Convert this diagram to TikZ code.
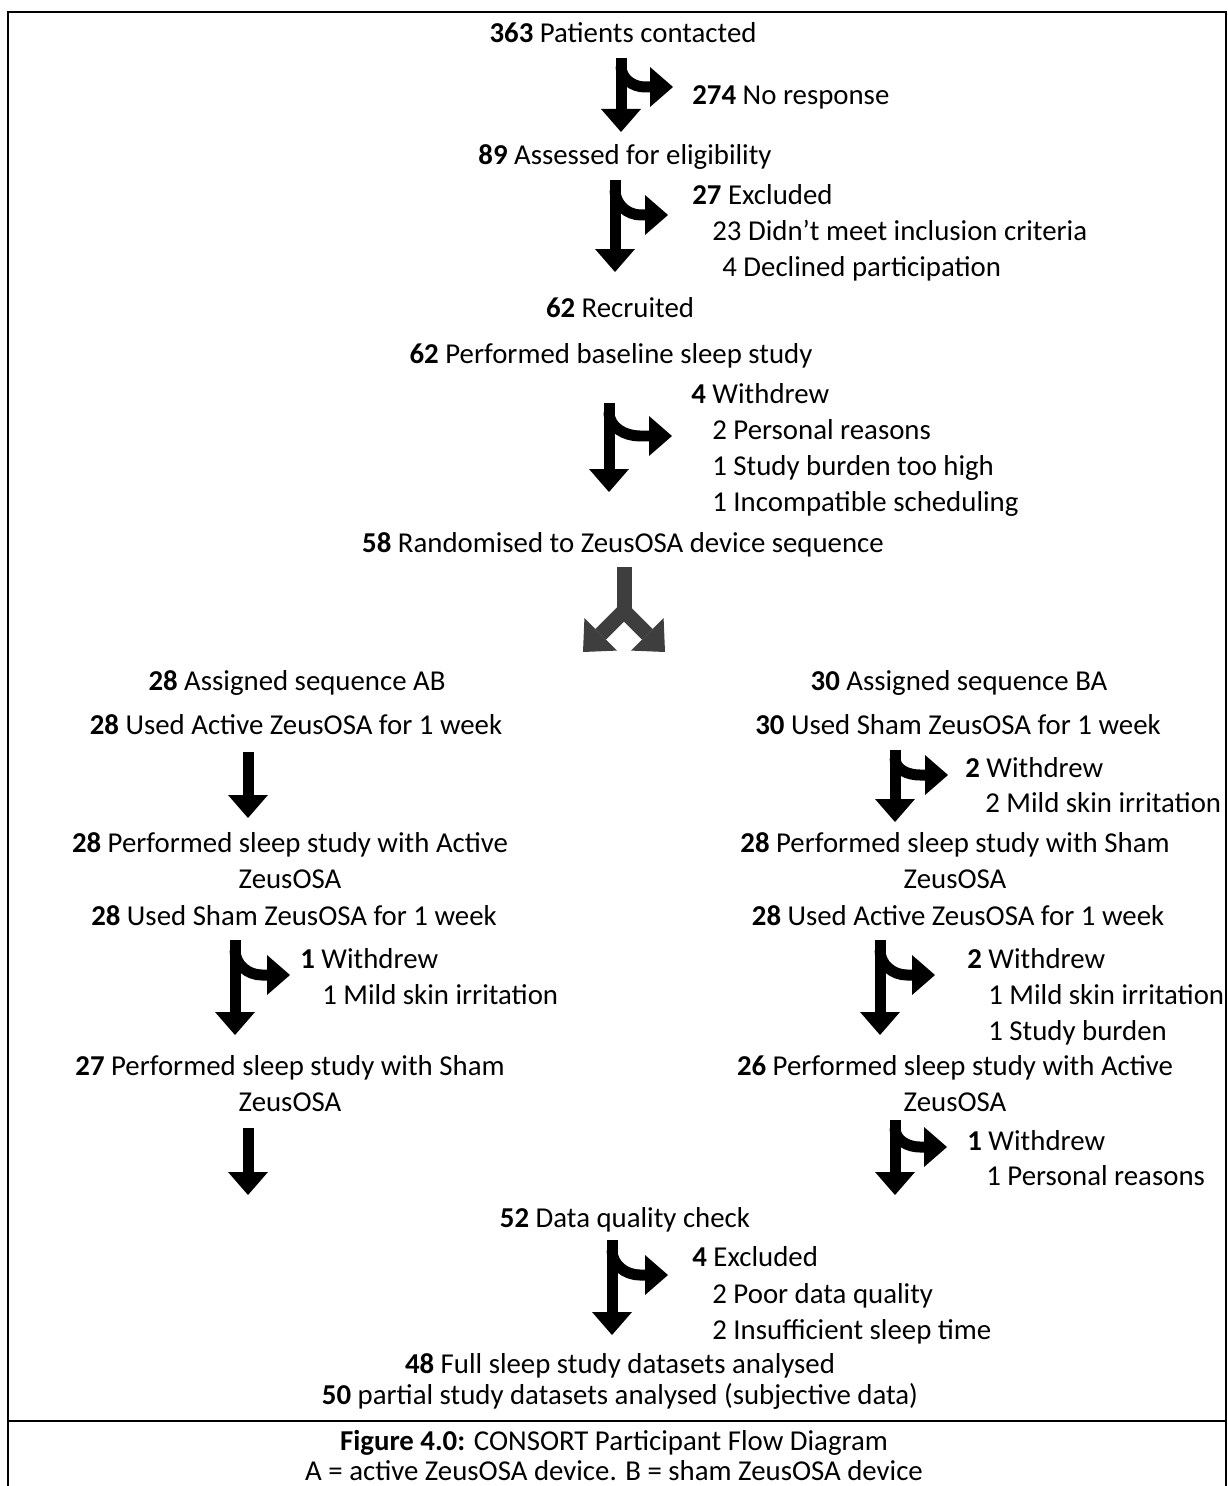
\documentclass[tikz,border=0pt]{standalone}
\usepackage{fontspec}
\setmainfont{Carlito}
\usetikzlibrary{arrows.meta}
\definecolor{forkgrey}{RGB}{62,62,62}

\begin{document}
\begin{tikzpicture}[x=0.02cm, y=-0.02cm,
	every node/.style={inner sep=0pt, font=\fontsize{16.4}{20}\selectfont},
	line/.style={anchor=base},
	side/.style={anchor=base west},
	frame/.style={line width=0.03cm},
	bigarrow/.style={line width=0.22cm, arrows={-Triangle[width=0.8cm,length=0.46cm,line width=0pt]}},
	fork/.style={draw=forkgrey, line width=0.3cm, line join=miter}]
	\useasboundingbox (0,0) rectangle (1227,1486);
	\draw[frame] (8,1486) -- (8,12) -- (1226,12) -- (1226,1486);
	\draw[frame] (8,1421) -- (1226,1421);

	\node[line] (contacted) at (623,43) {\textbf{363} Patients contacted};
	\node[side] (noresp) at (692,105) {\textbf{274} No response};
	\node[line] (assessed) at (625,165) {\textbf{89} Assessed for eligibility};
	\node[side] (excl) at (692,205) {\textbf{27} Excluded};
	\node[side] (exclA) at (712,241) {23 Didn’t meet inclusion criteria};
	\node[side] (exclB) at (722,277) {4 Declined participation};
	\node[line] (recruited) at (620,318) {\textbf{62} Recruited};
	\node[line] (baseline) at (611,364) {\textbf{62} Performed baseline sleep study};
	\node[side] (wd) at (691,403) {\textbf{4} Withdrew};
	\node[side] (wdA) at (712,439) {2 Personal reasons};
	\node[side] (wdB) at (712,475) {1 Study burden too high};
	\node[side] (wdC) at (712,511) {1 Incompatible scheduling};
	\node[line] (random) at (623,552) {\textbf{58} Randomised to ZeusOSA device sequence};

	\node[line] (seqAB) at (297,690) {\textbf{28} Assigned sequence AB};
	\node[line] (activeAB) at (296,734) {\textbf{28} Used Active ZeusOSA for 1 week};
	\node[line] (sleepAB) at (290,852) {\textbf{28} Performed sleep study with Active};
	\node[line] (sleepABz) at (290,888) {ZeusOSA};
	\node[line] (shamAB) at (294,925) {\textbf{28} Used Sham ZeusOSA for 1 week};
	\node[side] (wdAB) at (300,968) {\textbf{1} Withdrew};
	\node[side] (wdABa) at (322,1004) {1 Mild skin irritation};
	\node[line] (sleepABb) at (290,1075) {\textbf{27} Performed sleep study with Sham};
	\node[line] (sleepABbz) at (290,1111) {ZeusOSA};

	\node[line] (seqBA) at (959,690) {\textbf{30} Assigned sequence BA};
	\node[line] (shamBA) at (958,734) {\textbf{30} Used Sham ZeusOSA for 1 week};
	\node[side] (wdBA) at (965,777) {\textbf{2} Withdrew};
	\node[side] (wdBAa) at (985,812) {2 Mild skin irritation};
	\node[line] (sleepBA) at (955,852) {\textbf{28} Performed sleep study with Sham};
	\node[line] (sleepBAz) at (955,888) {ZeusOSA};
	\node[line] (activeBA) at (958,925) {\textbf{28} Used Active ZeusOSA for 1 week};
	\node[side] (wdBAb) at (967,968) {\textbf{2} Withdrew};
	\node[side] (wdBAba) at (988,1004) {1 Mild skin irritation};
	\node[side] (wdBAbb) at (988,1040) {1 Study burden};
	\node[line] (sleepBAb) at (955,1075) {\textbf{26} Performed sleep study with Active};
	\node[line] (sleepBAbz) at (955,1111) {ZeusOSA};
	\node[side] (wdBAc) at (967,1150) {\textbf{1} Withdrew};
	\node[side] (wdBAca) at (986,1185) {1 Personal reasons};

	\node[line] (quality) at (625,1227) {\textbf{52} Data quality check};
	\node[side] (qex) at (692,1266) {\textbf{4} Excluded};
	\node[side] (qexA) at (712,1303) {2 Poor data quality};
	\node[side] (qexB) at (712,1339) {2 Insufficient sleep time};
	\node[line] (full) at (620,1373) {\textbf{48} Full sleep study datasets analysed};
	\node[line] (partial) at (620,1404) {\textbf{50} partial study datasets analysed (subjective data)};
	\node[line] (caption) at (614,1450) {\textbf{Figure 4.0:} CONSORT Participant Flow Diagram};
	\node[line] (legend) at (614,1480) {A = active ZeusOSA device. B = sham ZeusOSA device};

	\draw[bigarrow] (621,58) -- (621,132);
	\draw[bigarrow] (621,66) to[out=-90,in=180] (645,87) -- (673,87);
	\draw[bigarrow] (615,180) -- (615,272);
	\draw[bigarrow] (615,190) to[out=-90,in=180] (641,215) -- (668,215);
	\draw[bigarrow] (609,403) -- (609,492);
	\draw[bigarrow] (609,412) to[out=-90,in=180] (640,436) -- (672,436);

	\draw[fork] (624,567) -- (624,612);
	\draw[fork, arrows={Triangle[width=0.92cm,length=0.5cm,line width=0pt]-Triangle[width=0.92cm,length=0.5cm,line width=0pt]}] (583,652) -- (624,611) -- (665,652);

	\draw[bigarrow] (248,752) -- (248,818);
	\draw[bigarrow] (895,750) -- (895,822);
	\draw[bigarrow] (895,758) to[out=-90,in=180] (920,775) -- (948,775);
	\draw[bigarrow] (235,940) -- (235,1035);
	\draw[bigarrow] (235,950) to[out=-90,in=180] (262,975) -- (290,975);
	\draw[bigarrow] (880,940) -- (880,1035);
	\draw[bigarrow] (880,950) to[out=-90,in=180] (907,975) -- (935,975);
	\draw[bigarrow] (248,1128) -- (248,1195);
	\draw[bigarrow] (895,1120) -- (895,1195);
	\draw[bigarrow] (895,1128) to[out=-90,in=180] (920,1147) -- (947,1147);
	\draw[bigarrow] (612,1240) -- (612,1335);
	\draw[bigarrow] (612,1250) to[out=-90,in=180] (640,1275) -- (668,1275);
\end{tikzpicture}
\end{document}
